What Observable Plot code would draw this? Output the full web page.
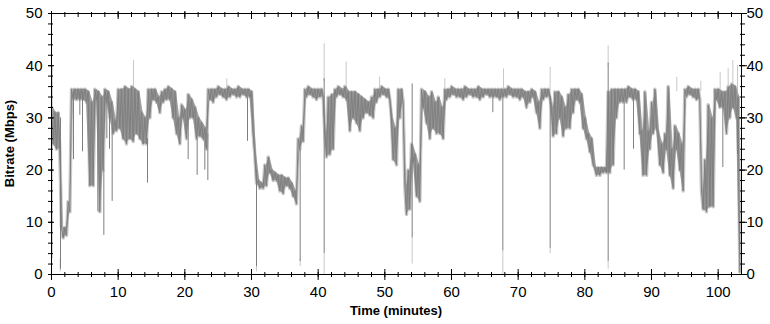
<!DOCTYPE html>
<html>
<head>
<meta charset="utf-8">
<script src="https://cdn.jsdelivr.net/npm/d3@7"></script>
<script src="https://cdn.jsdelivr.net/npm/@observablehq/plot@0.6"></script>
<style>
  body { margin: 0; background: #fff; }
</style>
</head>
<body>
<div id="chart"></div>
<script>
// Bitrate trace, one bin every half minute: lower and upper edge of the dark band (Mbps)
const binStart = 0;
const binWidth = 0.5;
const lowMbps = [
  25, 24, 24, 7, 7.5, 12, 33.5, 33.5, 33.5, 33.5,
  33, 17, 17, 33.5, 12, 20, 33, 30, 27, 27.5,
  28, 26, 25, 26, 25.5, 27, 26, 25, 25, 30,
  33.5, 33, 31, 33, 33.5, 33.5, 30, 27, 25, 30,
  26, 30, 30, 26, 26.5, 26, 24, 33.5, 33, 34,
  34.5, 34, 33.5, 34, 34.5, 34, 34, 34.5, 34, 34,
  27, 17.5, 16.5, 16.5, 17, 19.5, 18, 18, 16, 15.5,
  17, 16.5, 15, 13.5, 24, 25.5, 34, 34.5, 34, 33.5,
  34, 34, 22.5, 23, 24, 34, 34.5, 34, 33.5, 27.5,
  30, 29, 27.5, 30, 31, 30.5, 30, 33, 34, 34.5,
  34, 33.5, 22, 21, 30, 33, 11.5, 12.5, 21.5, 15,
  14, 32, 29, 26, 28, 27, 27, 26, 33.5, 34,
  34.5, 34, 34, 33.5, 34, 34.5, 34, 34, 33.5, 34,
  34.5, 34, 34, 34, 33.5, 34, 34, 34.5, 34, 34,
  33.5, 34, 32, 33, 34, 31, 28, 33.5, 34, 34,
  26.5, 27, 30, 26.5, 28, 28, 31, 33.5, 33, 28,
  26, 23.5, 21, 19, 19, 19.5, 19.5, 19.5, 21, 30,
  33, 33, 33, 34, 33.5, 33.5, 27, 19, 19, 24,
  27, 28, 21, 19.5, 24, 19, 16.5, 24, 20, 16,
  34, 34.5, 34, 33.5, 33.5, 12.5, 12, 13, 13, 33.5,
  32, 32, 27, 30, 32, 30, 0.5
];
const highMbps = [
  32, 31, 31, 9, 9, 14, 35.5, 35.5, 35.5, 35.5,
  35.5, 35, 33, 35.5, 35, 34, 35.5, 35, 33, 29.5,
  35.5, 35.5, 36, 35.5, 36, 35.5, 35, 31, 30, 35.5,
  35.5, 35.5, 34, 35, 35.5, 36, 35.5, 35, 30, 32.5,
  31.5, 34.5, 33.5, 32, 30, 29, 28, 35.5, 35.5, 35.5,
  36, 35.5, 35.5, 36, 35.5, 35.5, 36, 35.5, 35.5, 35.5,
  35, 23, 18, 17.5, 21, 22.5, 20, 19.5, 19, 19,
  18.5, 18.5, 17.5, 16, 26, 28.5, 35.5, 36, 35.5, 35.5,
  35.5, 35.5, 27, 34, 34.5, 35.5, 36, 35.5, 36, 35,
  35, 35, 34.5, 34, 33.5, 33, 34, 35.5, 35.5, 36,
  35.5, 35.5, 30, 28, 35.5, 35.5, 17, 20, 25, 23,
  21, 35.5, 35, 34, 35, 33, 34, 32, 35.5, 35.5,
  36, 35.5, 35.5, 35.5, 36, 35.5, 35.5, 35.5, 36, 35.5,
  35.5, 35.5, 35.5, 35.5, 35.5, 35.5, 35.5, 36, 35.5, 35.5,
  35.5, 35.5, 35, 35, 35.5, 35, 33, 35.5, 35.5, 35.5,
  32, 35, 35, 34, 32, 34.5, 35.5, 35.5, 35.5, 34.5,
  30, 27, 26, 20.5, 20.5, 20.5, 20.5, 35, 35.5, 35.5,
  35.5, 35.5, 35.5, 36, 35.5, 35.5, 35, 27.5, 35, 27.5,
  33, 35.5, 27, 25, 27, 36, 24, 28.5, 27, 25,
  35.5, 36, 35.5, 35.5, 35.5, 16, 22, 32.5, 30, 35.5,
  35.5, 35, 35, 36, 36.5, 36, 34
];
// Narrow dark dips / peaks of the trace: time (min), from, to (Mbps)
const darkSpikeTime = [0.05, 1.35, 3.3, 4.25, 4.65, 6.95, 7.85, 8.3, 8.7, 9.1, 14.4, 20.5, 21.85, 23.0, 23.45, 29.4, 30.75, 37.3, 40.9, 54.1, 66.2, 67.7, 74.8, 83.5, 85.9, 87.3, 100.7, 102.9];
const darkSpikeFrom = [3, 1, 22, 30.5, 23.5, 12, 7.5, 26, 24, 14, 17.5, 22, 19, 20, 18, 25.5, 1.5, 2.5, 4, 7, 31, 4.5, 5, 2.5, 20, 24, 20.5, 23];
const darkSpikeTo   = [40, 30, 35, 35, 35, 35, 20, 34, 33, 28, 26, 30, 26, 25, 27, 34, 20, 24, 37.5, 36.5, 34, 34, 34, 40.5, 33, 33.5, 32, 30];
// Light-grey peaks beyond the dark trace
const lightSpikeTime = [1.3, 12.3, 26.3, 30.75, 37.3, 40.9, 40.9, 44.2, 49.2, 54.1, 59, 67.7, 67.8, 74.8, 74.8, 83.5, 83.5, 93.8, 97.4, 100.3, 101.5, 102.2, 102.9];
const lightSpikeFrom = [0.5, 35, 35, 0.5, 1.5, 37, 0, 35, 35, 2, 35, 0, 35, 35, 4, 40, 1, 35, 35, 35, 35, 36, 35];
const lightSpikeTo   = [3, 41, 37.5, 2, 3, 44.2, 4, 40.7, 37.8, 7, 37.5, 4.5, 39.4, 39.7, 5, 43.8, 2.5, 37.8, 37, 38.7, 39.5, 41, 40];

const xMajor = [0, 10, 20, 30, 40, 50, 60, 70, 80, 90, 100];
const yMajor = [0, 10, 20, 30, 40, 50];
const xMinor = d3.range(0, 104, 2);
const yMinor = d3.range(0, 51, 2);

const series = [];
const bands = [];
lowMbps.forEach((lo, i) => {
  const t = binStart + i * binWidth;
  series.push({t, v: highMbps[i]});
  series.push({t: t + binWidth / 2, v: lo});
  bands.push({t: t + binWidth / 2, lo, hi: highMbps[i]});
});
const darkSpikes = darkSpikeTime.map((t, i) => ({t, from: darkSpikeFrom[i], to: darkSpikeTo[i]}));
const lightSpikes = lightSpikeTime.map((t, i) => ({t, from: lightSpikeFrom[i], to: lightSpikeTo[i]}));

const noText = () => "";
const W = 770, H = 324, mL = 51, mR = 29, mT = 13, mB = 50;
const DARK = "#7f7f7f", LIGHT = "#c8c8c8";

const ax = (k, ticks, opts) => (k === "x" ? Plot.axisX : Plot.axisY)(ticks, {label: null, tickFormat: noText, ...opts});

const chart = Plot.plot({
  width: W, height: H,
  marginLeft: mL, marginRight: mR, marginTop: mT, marginBottom: mB,
  x: {domain: [0, 103.5], label: null},
  y: {domain: [0, 50], label: null},
  style: {
    fontFamily: "'Liberation Sans Narrow', 'Arial Narrow', 'Liberation Sans', Arial, sans-serif",
    fontSize: "15px",
    color: "#000",
    background: "#fff"
  },
  marks: [
    Plot.line(series, {x: "t", y: "v", stroke: LIGHT, strokeWidth: 3.5, strokeLinejoin: "round", clip: true}),
    Plot.ruleX(lightSpikes, {x: "t", y1: "from", y2: "to", stroke: LIGHT, strokeWidth: 1, clip: true}),
    Plot.areaY(bands, {x: "t", y1: "lo", y2: "hi", fill: DARK, fillOpacity: 0.72, clip: true}),
    Plot.line(series, {x: "t", y: "v", stroke: DARK, strokeWidth: 1, strokeLinejoin: "round", clip: true}),
    Plot.ruleX(darkSpikes, {x: "t", y1: "from", y2: "to", stroke: DARK, strokeWidth: 1, clip: true}),
    Plot.frame({stroke: "#000"}),
    // bottom
    ax("x", xMajor, {anchor: "bottom", tickSize: 6}),
    ax("x", xMajor, {anchor: "bottom", tickSize: -5}),
    ax("x", xMinor, {anchor: "bottom", tickSize: 3}),
    ax("x", xMinor, {anchor: "bottom", tickSize: -2}),
    ax("x", xMajor, {anchor: "bottom", tickSize: 0, tickPadding: 12, tickFormat: d => d}),
    // top
    ax("x", xMajor, {anchor: "top", tickSize: -5}),
    ax("x", xMajor, {anchor: "top", tickSize: 3}),
    ax("x", xMinor, {anchor: "top", tickSize: -3}),
    ax("x", xMinor, {anchor: "top", tickSize: 2}),
    // left
    ax("y", yMajor, {anchor: "left", tickSize: 3}),
    ax("y", yMajor, {anchor: "left", tickSize: -3}),
    ax("y", yMinor, {anchor: "left", tickSize: 3}),
    ax("y", yMinor, {anchor: "left", tickSize: -2}),
    ax("y", yMajor, {anchor: "left", tickSize: 0, tickPadding: 9, tickFormat: d => d}),
    // right
    ax("y", yMajor, {anchor: "right", tickSize: 5}),
    ax("y", yMajor, {anchor: "right", tickSize: -3}),
    ax("y", yMinor, {anchor: "right", tickSize: 3}),
    ax("y", yMinor, {anchor: "right", tickSize: -2}),
    ax("y", yMajor, {anchor: "right", tickSize: 0, tickPadding: 5, tickFormat: d => d})
  ]
});

const svg = d3.select(chart);
svg.append("text")
  .attr("x", (mL + W - mR) / 2)
  .attr("y", 315)
  .attr("text-anchor", "middle")
  .style("font", "bold 13px 'Liberation Sans', Arial, sans-serif")
  .attr("fill", "#000")
  .text("Time (minutes)");
svg.append("text")
  .attr("transform", `translate(14,${(mT + H - mB) / 2}) rotate(-90)`)
  .attr("text-anchor", "middle")
  .style("font", "bold 13px 'Liberation Sans', Arial, sans-serif")
  .attr("fill", "#000")
  .text("Bitrate (Mbps)");

document.getElementById("chart").appendChild(chart);
</script>
</body>
</html>
